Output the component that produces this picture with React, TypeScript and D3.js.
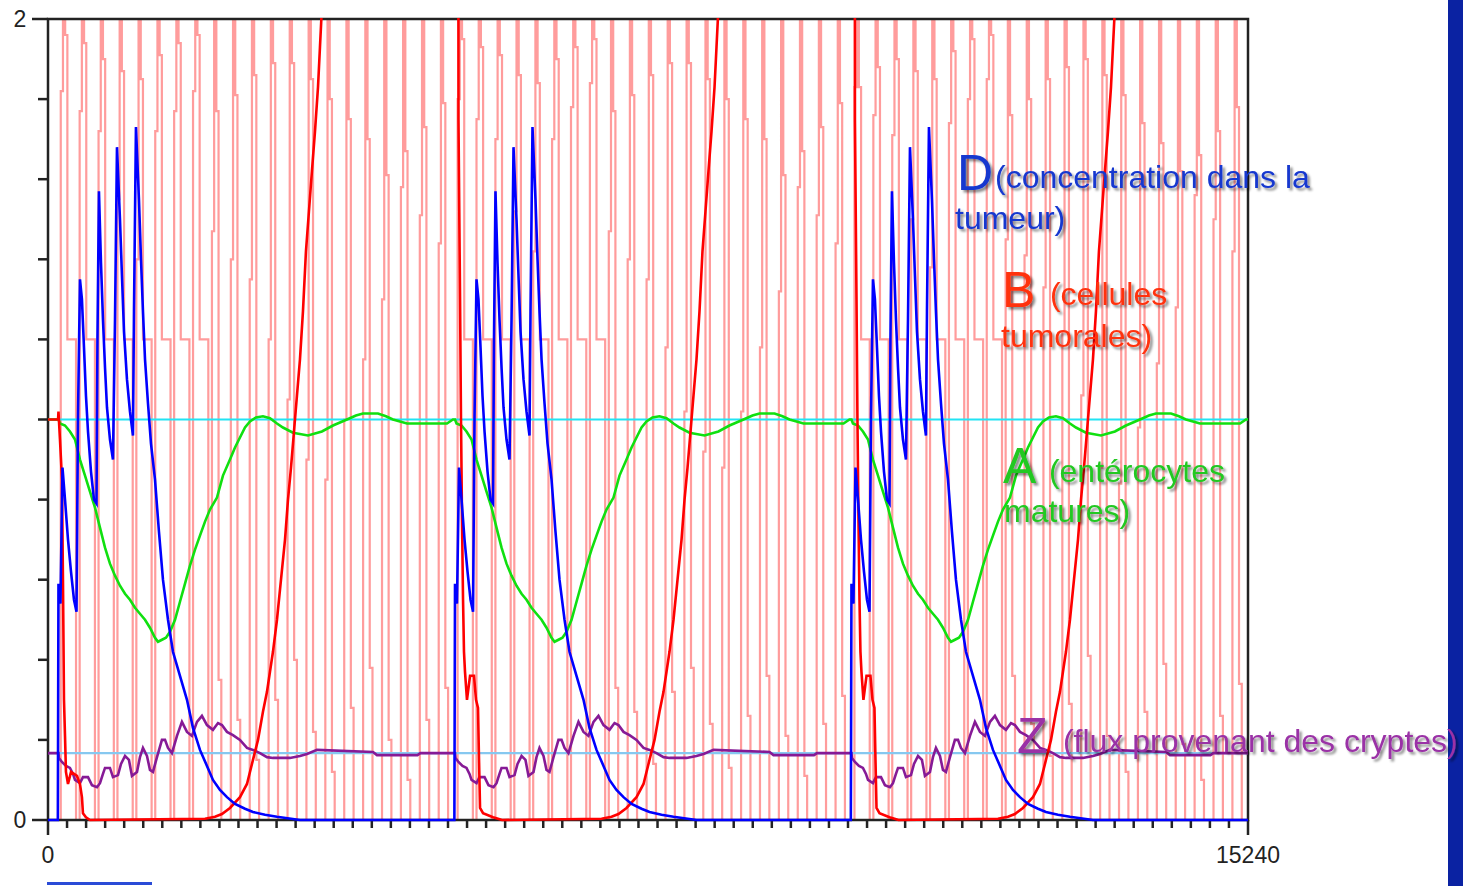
import React from 'react';
import * as d3 from 'd3';

// ---- data ----
const xMax = 15240;
const yMax = 2;
const yTicks = [0, 0.2, 0.4, 0.6, 0.8, 1, 1.2, 1.4, 1.6, 1.8, 2];
const yTickLabels = [0, 2];
const xTickCount = 63;
const xTickLabels = [0, 15240];

// three treatment cycles, same response each time
const cycleStarts = [133, 5169, 10204];

// D (blue) : [time after cycle start, value]
const blueShape: [number, number][] = [
  [-8, 0], [0, 0.59], [25, 0.54], [51, 0.88], [83, 0.8], [121, 0.7], [159, 0.62], [197, 0.55],
  [229, 0.52], [248, 1.01], [273, 1.35], [298, 1.3], [324, 1.18], [349, 1.06], [375, 0.97],
  [413, 0.87], [451, 0.8], [483, 0.79], [495, 1.2], [514, 1.57], [540, 1.39], [565, 1.25],
  [591, 1.13], [616, 1.03], [654, 0.95], [692, 0.9], [718, 1.25], [743, 1.68], [781, 1.5],
  [806, 1.36], [832, 1.22], [870, 1.1], [908, 1.02], [946, 0.96], [959, 1.27], [984, 1.73],
  [1022, 1.55], [1048, 1.4], [1073, 1.27], [1099, 1.15], [1137, 1.04], [1175, 0.94],
  [1226, 0.85], [1276, 0.72], [1327, 0.6], [1391, 0.5], [1454, 0.42], [1543, 0.36],
  [1632, 0.3], [1708, 0.23], [1797, 0.175], [1886, 0.135], [1962, 0.1], [2051, 0.075],
  [2140, 0.057], [2242, 0.04], [2369, 0.028], [2470, 0.02], [2623, 0.013], [2775, 0.008], [3067, 0],
];

// B (red)
const redInitial: [number, number][] = [[0, 1.0]];
const redFirstFall: [number, number][] = [
  [-5, 1.0], [0, 1.02], [19, 0.95], [32, 0.9], [44, 0.85], [57, 0.6], [70, 0.3], [83, 0.21],
  [95, 0.12], [121, 0.09], [159, 0.12], [235, 0.11], [273, 0.09], [298, 0.057], [311, 0.017],
  [349, 0.007], [400, 0],
];
const redFall: [number, number][] = [
  [0, 3.5], [40, 3.5], [44, 1.75], [64, 1.3], [76, 1.0], [89, 0.75], [102, 0.55], [114, 0.42], [127, 0.37],
  [152, 0.3], [191, 0.36], [241, 0.36], [267, 0.3], [292, 0.28], [305, 0.15], [318, 0.03],
  [356, 0.017], [483, 0.007], [546, 0.003], [597, 0],
];
const redRise: [number, number][] = [
  [1861, 0.003], [1988, 0.008], [2076, 0.015], [2178, 0.03], [2305, 0.057], [2394, 0.09],
  [2470, 0.15], [2534, 0.2], [2597, 0.27], [2648, 0.32], [2686, 0.37], [2724, 0.42], [2775, 0.5],
  [2826, 0.6], [2877, 0.7], [2915, 0.8], [2953, 0.88], [2991, 0.97], [3029, 1.06], [3067, 1.15],
  [3105, 1.27], [3143, 1.42], [3181, 1.52], [3219, 1.62], [3258, 1.72], [3296, 1.83],
  [3321, 1.93], [3346, 2.03], [3397, 2.3], [3473, 2.8], [3575, 3.5],
];

// A (green)
const greenShape: [number, number][] = [
  [0, 1.0], [19, 0.99], [83, 0.985], [146, 0.97], [210, 0.95], [273, 0.9], [337, 0.86], [400, 0.82],
  [464, 0.78], [527, 0.73], [591, 0.68], [654, 0.64], [718, 0.61], [781, 0.585], [845, 0.565],
  [908, 0.55], [972, 0.53], [1035, 0.515], [1099, 0.5], [1162, 0.48], [1226, 0.455], [1264, 0.445],
  [1314, 0.45], [1365, 0.455], [1416, 0.47], [1480, 0.5], [1543, 0.545], [1607, 0.59], [1670, 0.635],
  [1734, 0.675], [1797, 0.71], [1861, 0.745], [1924, 0.775], [2013, 0.805], [2089, 0.86],
  [2178, 0.9], [2242, 0.93], [2305, 0.955], [2369, 0.98], [2432, 0.995], [2508, 1.005],
  [2597, 1.008], [2686, 1.003], [2775, 0.99], [2851, 0.98], [2978, 0.967], [3169, 0.96],
  [3346, 0.97], [3486, 0.985], [3664, 1.0], [3778, 1.01], [3867, 1.015], [4058, 1.015],
  [4159, 1.008], [4248, 1.0], [4426, 0.99], [4934, 0.99], [5010, 1.0],
];

// Z (purple)
const purpleShape: [number, number][] = [
  [0, 0.167], [6, 0.155], [44, 0.145], [95, 0.135], [146, 0.13], [184, 0.115], [210, 0.1],
  [273, 0.092], [311, 0.107], [375, 0.107], [425, 0.087], [489, 0.082], [527, 0.092], [565, 0.115],
  [591, 0.13], [654, 0.13], [692, 0.107], [756, 0.112], [794, 0.14], [845, 0.16], [895, 0.15],
  [933, 0.11], [997, 0.12], [1035, 0.157], [1073, 0.18], [1124, 0.16], [1162, 0.125], [1200, 0.12],
  [1251, 0.157], [1314, 0.2], [1353, 0.2], [1391, 0.18], [1441, 0.167], [1505, 0.21], [1568, 0.245],
  [1632, 0.22], [1695, 0.21], [1759, 0.245], [1822, 0.26], [1886, 0.237], [1962, 0.225],
  [2026, 0.242], [2076, 0.237], [2140, 0.22], [2216, 0.212], [2305, 0.2], [2394, 0.18],
  [2470, 0.175], [2559, 0.167], [2648, 0.157], [2724, 0.155], [2940, 0.155], [3067, 0.16],
  [3156, 0.165], [3283, 0.175], [3994, 0.17], [4045, 0.162], [4559, 0.162], [4597, 0.167],
];

// reference levels
const cyanLevel = 1.0;
const lightBlueLevel = 0.167;

// pink dosing signal: one pulse per time, with a step on the way up, a step on the way down, and a foot
const pinkTimes = [
  190, 430, 670, 910, 1150, 1390, 1630, 1870, 2110, 2350, 2590, 2830, 3070, 3310, 3550, 3790, 4030, 4270, 4510, 4750, 4990,
  5230, 5470, 5710, 5950, 6190, 6430, 6670, 6910, 7150, 7390, 7630, 7870, 8110, 8350, 8590, 8830, 9070, 9310, 9550, 9790, 10030,
  10270, 10510, 10750, 10990, 11230, 11470, 11710, 11950, 12190, 12430, 12670, 12910, 13150, 13390, 13630, 13870, 14110, 14350, 14590, 14830, 15070,
];
const pinkRise = [
  1.82, 1.77, 1.72, 1.55, 1.4, 1.72, 1.77, 1.82, 1.47, 1.4, 1.35, 1.2, 1.05, 0.9, 0.85, 1.0, 1.15, 1.3, 1.58, 1.51, 1.44,
  1.8, 1.75, 1.7, 1.52, 1.42, 1.7, 1.78, 1.84, 1.47, 1.4, 1.35, 1.18, 1.02, 0.92, 0.88, 1.02, 1.18, 1.32, 1.58, 1.51, 1.44,
  1.83, 1.76, 1.71, 1.5, 1.38, 1.74, 1.8, 1.85, 1.45, 1.41, 1.33, 1.22, 1.06, 0.88, 0.84, 0.98, 1.14, 1.28, 1.56, 1.5, 1.42,
];
const pinkFall = [
  1.96, 1.94, 1.9, 1.87, 1.85, 1.91, 1.94, 1.96, 1.77, 1.81, 1.86, 1.89, 1.89, 1.85, 1.8, 1.75, 1.7, 1.61, 1.67, 1.73, 1.79,
  1.95, 1.93, 1.91, 1.86, 1.84, 1.9, 1.93, 1.95, 1.77, 1.81, 1.86, 1.89, 1.89, 1.85, 1.8, 1.75, 1.7, 1.61, 1.67, 1.73, 1.79,
  1.83, 1.88, 1.9, 1.87, 1.85, 1.92, 1.95, 1.96, 1.76, 1.8, 1.85, 1.88, 1.9, 1.86, 1.81, 1.74, 1.69, 1.62, 1.66, 1.72, 1.78,
];
const pinkFoot = [
  1.2, 1.2, 1.2, 1.2, 1.2, 1.2, 1.2, 1.2, 0.35, 0.25, 0.15, 0.3, 0.4, 0.22, 0.12, 0.28, 0.38, 0.2, 0.1, 0.25, 0.33,
  1.2, 1.2, 1.2, 1.2, 1.2, 1.2, 1.2, 1.2, 0.33, 0.27, 0.14, 0.32, 0.38, 0.24, 0.13, 0.26, 0.36, 0.21, 0.11, 0.24, 0.31,
  1.2, 1.2, 1.2, 1.2, 1.2, 1.2, 1.2, 1.2, 0.36, 0.24, 0.16, 0.29, 0.41, 0.21, 0.12, 0.27, 0.39, 0.19, 0.1, 0.26, 0.34,
];

const labels = [
  { big: 'D', rest: ['(concentration dans la', 'tumeur)'], color: '#1638cf', bx: 957, by: 190, rx: 995, ry: 188, lx: 955, ly: 229 },
  { big: 'B', rest: [' (cellules', 'tumorales)'], color: '#ff3311', bx: 1002, by: 307, rx: 1041, ry: 305, lx: 1001, ly: 347 },
  { big: 'A', rest: [' (entérocytes', 'matures)'], color: '#22c822', bx: 1003, by: 483, rx: 1040, ry: 482, lx: 1004, ly: 522 },
  { big: 'Z', rest: [' (flux provenant des cryptes)', ''], color: '#9a30a6', bx: 1017, by: 753, rx: 1054, ry: 752, lx: 0, ly: 0 },
];

// ---- layout ----
const W = 1463;
const H = 886;
const left = 48, right = 1248, top = 19, bottom = 820;
const FONT = '"Liberation Sans", Arial, sans-serif';

const x = d3.scaleLinear().domain([0, xMax]).range([left, right]);
const y = d3.scaleLinear().domain([0, yMax]).range([bottom, top]);
const line = d3.line<[number, number]>().x(d => x(d[0])).y(d => y(d[1]));

const place = (shape: [number, number][], s: number) =>
  shape.map(([dt, v]) => [s + dt, v] as [number, number]);

const App = () => {
  const bluePts: [number, number][] = [[0, 0], ...cycleStarts.flatMap(s => place(blueShape, s)), [xMax, 0]];
  const redPts: [number, number][] = [
    ...redInitial,
    ...place(redFirstFall, cycleStarts[0]),
    ...place(redRise, cycleStarts[0]),
    ...cycleStarts.slice(1).flatMap(s => [...place(redFall, s), ...place(redRise, s)]),
    [xMax, 3.5],
  ];
  const greenPts: [number, number][] = [[0, 1.0], ...cycleStarts.flatMap(s => place(greenShape, s)), [xMax, 1.0]];
  const purplePts: [number, number][] = [[0, 0.167], ...cycleStarts.flatMap(s => place(purpleShape, s)), [xMax, 0.167]];

  // pink pulses as explicit step corners
  const D = 28, TOP = 2.4;
  const pinkPts: [number, number][] = [[0, 0]];
  pinkTimes.forEach((t, i) => {
    const foot = pinkFoot[i];
    const len = foot >= 1 ? 110 : 35;
    pinkPts.push(
      [t - D, 0], [t - D, pinkRise[i]], [t, pinkRise[i]], [t, TOP], [t + D, TOP],
      [t + D, pinkFall[i]], [t + 2 * D, pinkFall[i]], [t + 2 * D, foot],
      [t + 2 * D + len, foot], [t + 2 * D + len, 0],
    );
  });
  pinkPts.push([xMax, 0]);

  const xTicks = d3.range(0, xTickCount + 1).map(i => (i * xMax) / xTickCount);

  return (
    <svg width={W} height={H} style={{ position: 'absolute', left: 0, top: 0, background: '#fff' }}>
      <defs>
        <clipPath id="plot">
          <rect x={left} y={top - 1} width={right - left} height={bottom - top + 5} />
        </clipPath>
        <filter id="shadow" x="-10%" y="-30%" width="130%" height="160%">
          <feDropShadow dx="2.5" dy="2.5" stdDeviation="1.3" floodColor="#000" floodOpacity="0.45" />
        </filter>
      </defs>
      <rect x={0} y={0} width={W} height={H} fill="#fff" />

      <g clipPath="url(#plot)">
        <path d={line(pinkPts) ?? ''} fill="none" stroke="#ff9c9c" strokeWidth={2.2} />
      </g>

      {/* frame and axes */}
      <rect x={left} y={top} width={right - left} height={bottom - top} fill="none" stroke="#222" strokeWidth={2.5} />
      {yTicks.map(v => (
        <line key={v} x1={yTickLabels.includes(v) ? left - 16 : left - 10} x2={left} y1={y(v)} y2={y(v)} stroke="#222" strokeWidth={2.5} />
      ))}
      {xTicks.map((v, i) => (
        <line key={i} x1={x(v)} x2={x(v)} y1={bottom} y2={i === 0 || i === xTickCount ? bottom + 15 : bottom + 8} stroke="#222" strokeWidth={2.5} />
      ))}
      {yTickLabels.map(v => (
        <text key={v} x={20} y={y(v) + 8} textAnchor="middle" fontFamily={FONT} fontSize={23} fill="#222">{v}</text>
      ))}
      {xTickLabels.map(v => (
        <text key={v} x={x(v)} y={863} textAnchor="middle" fontFamily={FONT} fontSize={23} fill="#222">{v}</text>
      ))}

      <g clipPath="url(#plot)" fill="none" strokeWidth={2.6} strokeLinejoin="miter">
        <path d={line([[0, lightBlueLevel], [xMax, lightBlueLevel]]) ?? ''} stroke="#86c8f0" strokeWidth={2.2} />
        <path d={line([[0, cyanLevel], [xMax, cyanLevel]]) ?? ''} stroke="#22e4f4" strokeWidth={2.2} />
        <path d={line(greenPts) ?? ''} stroke="#10e010" />
        <path d={line(purplePts) ?? ''} stroke="#861a96" />
        <path d={line(redPts) ?? ''} stroke="#ff0000" />
        <path d={line(bluePts) ?? ''} stroke="#0000ff" />
      </g>

      {/* slide decorations */}
      <line x1={47} x2={152} y1={883.5} y2={883.5} stroke="#2a4bd7" strokeWidth={3} />
      <rect x={1448} y={0} width={W - 1448} height={H} fill="#0a22a2" />

      {labels.map(l => (
        <g key={l.big} filter="url(#shadow)" fill={l.color} fontFamily={FONT}>
          <text x={l.bx} y={l.by} fontSize={50}>{l.big}</text>
          <text x={l.rx} y={l.ry} fontSize={32} style={{ whiteSpace: 'pre' }}>{l.rest[0]}</text>
          {l.rest[1] && <text x={l.lx} y={l.ly} fontSize={32}>{l.rest[1]}</text>}
        </g>
      ))}
    </svg>
  );
};

export default App;
